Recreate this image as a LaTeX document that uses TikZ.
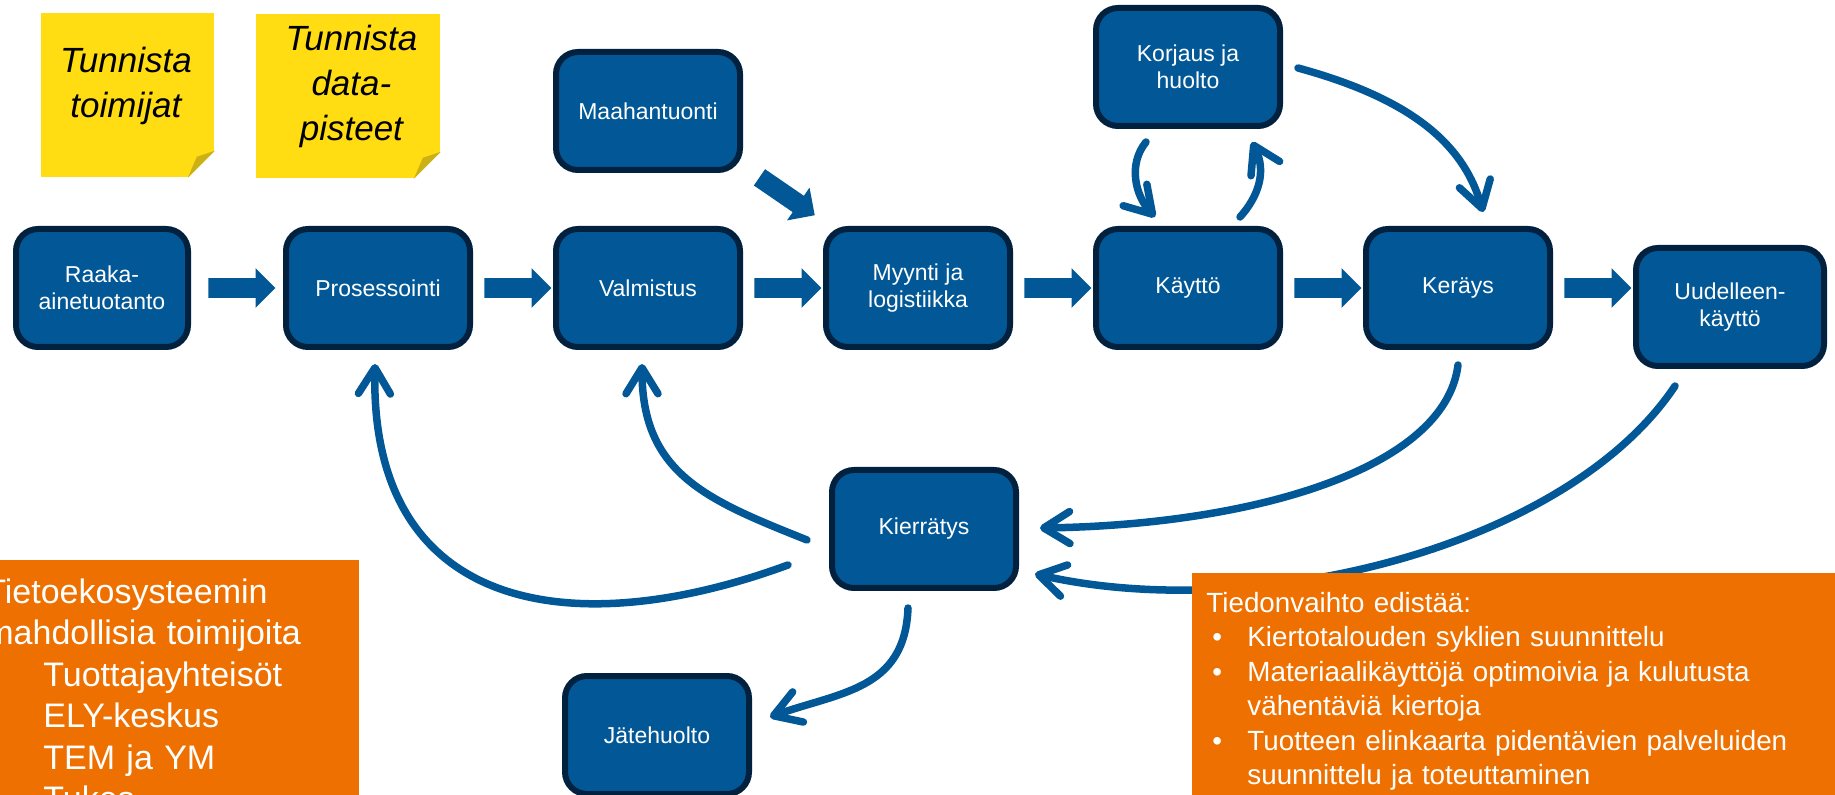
\documentclass[tikz,border=0pt]{standalone}
\usepackage{fontspec}
\setmainfont{Liberation Sans}
\usetikzlibrary{shapes.arrows,arrows.meta,positioning}

\definecolor{stageblue}{RGB}{2,88,150}
\definecolor{stageline}{RGB}{1,33,63}
\definecolor{noteyellow}{RGB}{255,221,18}
\definecolor{notefold}{RGB}{204,177,20}
\definecolor{infoorange}{RGB}{238,112,0}

\begin{document}
\begin{tikzpicture}[
  x=0.5pt, y=-0.5pt,
  node distance=43pt,
  stage/.style={rectangle, draw=stageline, line width=3pt, fill=stageblue, rounded corners=11pt,
    minimum width=92pt, minimum height=59pt, inner sep=2pt, outer sep=0pt, align=center, text=white,
    font=\fontsize{11.5pt}{13.5pt}\selectfont},
  blockarr/.style={single arrow, fill=stageblue, inner xsep=0pt, inner ysep=4.75pt,
    single arrow head extend=5pt, minimum height=33.5pt, sloped},
  flowarr/.style={draw=stageblue, line width=3.75pt, line cap=round,
    -{Straight Barb[length=13pt, width=16pt, round]}},
  note/.style={rectangle, fill=noteyellow, minimum width=92pt, minimum height=82pt, inner sep=0pt},
  notetext/.style={align=center, font=\fontsize{17.5pt}{22.5pt}\selectfont\itshape},
  infobox/.style={rectangle, fill=infoorange, text=white, align=left, anchor=north west}
]
\useasboundingbox (0,0) rectangle (1835,795);
\clip (0,0) rectangle (1835,795);

% sticky notes
\node[note, anchor=north west, minimum width=86.5pt] (note1) at (41,13) {};
\node[note, anchor=north west] (note2) at (256,14) {};
\foreach \n in {note1,note2} {
  \fill[white] ([xshift=-13.5pt]\n.south east) -- (\n.south east) -- ([yshift=13.5pt]\n.south east) -- cycle;
  \fill[notefold] ([xshift=-13.5pt]\n.south east) -- ([shift={(-18,-21)}]\n.south east)
    -- ([yshift=13.5pt]\n.south east) -- cycle;
}
\node[notetext] (idtoim) at ([shift={(-2,-9)}]note1.center) {Tunnista\\toimijat};
\node[notetext] (iddata) at ([shift={(3,-9.5)}]note2.center) {Tunnista\\data-\\pisteet};

% value chain
\node[stage, minimum width=86pt] (raaka) at (102,288) {Raaka-\\ainetuotanto};
\node[stage, right=49pt of raaka] (pros) {Prosessointi};
\node[stage, right=of pros] (valm) {Valmistus};
\node[stage, right=of valm] (myynti) {Myynti ja\\logistiikka};
\node[stage, right=of myynti] (kaytto) {Käyttö};
\node[stage, right=of kaytto] (keras) {Keräys};
\node[stage, right=of keras, yshift=-9.5pt, minimum width=94pt] (uud) {Uudelleen-\\käyttö};
\node[stage, above=29.5pt of valm] (maahan) {Maahantuonti};
\node[stage, above=51.5pt of kaytto] (korjaus) {Korjaus ja\\huolto};
\node[stage, below=61.5pt of myynti, xshift=3pt] (kierr) {Kierrätys};
\node[stage, below=164.5pt of valm, xshift=4.5pt] (jate) {Jätehuolto};

% block arrows
\path (raaka) -- node[blockarr, midway] {} (pros);
\path (pros) -- node[blockarr, midway] {} (valm);
\path (valm) -- node[blockarr, midway] {} (myynti);
\path (myynti) -- node[blockarr, midway] {} (kaytto);
\path (kaytto) -- node[blockarr, midway] {} (keras);
\path (keras) -- node[blockarr, midway] {} (keras -| uud.west);
\path ([yshift=3pt]maahan.south east) -- node[blockarr, midway] {} ([yshift=3pt]myynti.north west);

% loops back
\draw[flowarr] ([shift={(-44,36)}]kierr.west) .. controls +(-218,80) and +(-5,247) .. ([shift={(-3,17)}]pros.south);
\draw[flowarr] ([shift={(-25,11)}]kierr.west) .. controls +(-100,-40) and +(0,110) .. ([shift={(-6,17)}]valm.south);
\draw[flowarr] ([shift={(0,18)}]keras.south) .. controls +(-13,105) and +(210,-3) .. ([shift={(24,-1)}]kierr.east);
\draw[flowarr] ([shift={(-55,20)}]uud.south) .. controls +(-106,159) and +(225,51) .. ([shift={(19,45)}]kierr.east);
\draw[flowarr] ([shift={(18,1)}]korjaus.east) .. controls +(110,30) and +(-20,-70) .. ([shift={(25,-17)}]keras.north);
\draw[flowarr] ([shift={(-42,16)}]korjaus.south) .. controls +(-18,22) and +(-20,-22) .. ([shift={(-33,-12)}]kaytto.north);
\draw[flowarr] ([shift={(52,-12)}]kaytto.north) .. controls +(18,-20) and +(15,30) .. ([shift={(64,16)}]korjaus.south);
\draw[flowarr] ([shift={(-16,20)}]kierr.south) .. controls +(-3,82) and +(70,-25) .. ([shift={(21,-18)}]jate.east);

% info boxes
\node[infobox, text width=184.5pt, inner xsep=2.5pt, inner ysep=9pt,
  font=\fontsize{17pt}{20.75pt}\selectfont] (toimijat) at (-20,560)
  {Tietoekosysteemin\\mahdollisia toimijoita\\
   \hspace*{29pt}Tuottajayhteisöt\\\hspace*{29pt}ELY-keskus\\
   \hspace*{29pt}TEM ja YM\\\hspace*{29pt}Tukes};
\node[infobox, text width=310pt, inner xsep=7pt, inner ysep=9.5pt,
  font=\fontsize{13.9pt}{17.2pt}\selectfont] (hyodyt) at (1192,573)
  {Tiedonvaihto edistää:\\
   \hspace*{3pt}\makebox[17.5pt][l]{•}Kiertotalouden syklien suunnittelu\\
   \hspace*{3pt}\makebox[17.5pt][l]{•}Materiaalikäyttöjä optimoivia ja kulutusta\\
   \hspace*{20.5pt}vähentäviä kiertoja\\
   \hspace*{3pt}\makebox[17.5pt][l]{•}Tuotteen elinkaarta pidentävien palveluiden\\
   \hspace*{20.5pt}suunnittelu ja toteuttaminen};
\end{tikzpicture}
\end{document}
